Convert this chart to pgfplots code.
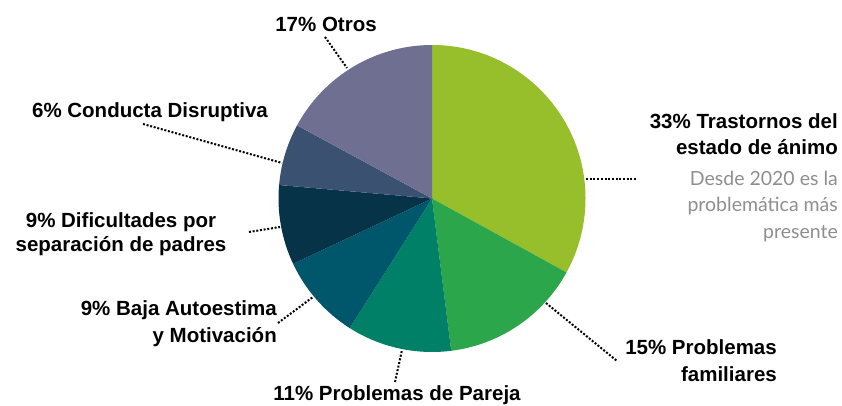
\documentclass[border=0pt]{standalone}
\usepackage{fontspec}
\setmainfont{Liberation Sans}
\newfontfamily\grayfont{Lato}
\usepackage{pgfplots}
\usepackage{pgfplotstable}
\pgfplotsset{compat=1.18}
\definecolor{c1}{HTML}{97BE2B}
\definecolor{c2}{HTML}{2BA64B}
\definecolor{c3}{HTML}{008066}
\definecolor{c4}{HTML}{00566A}
\definecolor{c5}{HTML}{073349}
\definecolor{c6}{HTML}{3B5171}
\definecolor{c7}{HTML}{6F7091}
\definecolor{graytxt}{HTML}{8E8E8E}

\pgfplotstableread{
pct start color
33 0 c1
15 33 c2
11 48 c3
9 59 c4
8.4 68 c5
6.5 76.4 c6
17.1 82.9 c7
}\piedata

\tikzset{
  lbl/.style={font=\bfseries\fontsize{20.5}{24}\selectfont, text=black, inner sep=0pt},
  glbl/.style={font=\grayfont\fontsize{19.5}{24}\selectfont, text=graytxt, inner sep=0pt},
  leader/.style={line width=2pt, dash pattern=on 2pt off 1.7pt, black},
}

\begin{document}
\begin{tikzpicture}
\begin{axis}[x=1pt, y=1pt, xmin=0, xmax=842, ymin=0, ymax=406,
  hide axis, scale only axis, clip=false]
\addplot[draw=none, forget plot] coordinates {(0,0) (842,406)};

\pgfplotsinvokeforeach{0,...,6}{
  \pgfplotstablegetelem{#1}{pct}\of\piedata \let\slicepct\pgfplotsretval
  \pgfplotstablegetelem{#1}{start}\of\piedata \let\slicestart\pgfplotsretval
  \pgfplotstablegetelem{#1}{color}\of\piedata \let\slicecol\pgfplotsretval
  \pgfmathsetmacro\slicea{90-3.6*\slicestart}
  \pgfmathsetmacro\sliceb{90-3.6*(\slicestart+\slicepct)}
  \edef\slicetemp{\noexpand\fill[\slicecol] (axis cs:432,207.5) -- ++(\slicea:153.5pt) arc[start angle=\slicea, end angle=\sliceb, radius=153.5pt] -- cycle;}
  \slicetemp
}

% leader lines
\draw[leader] (axis cs:325,369) -- (axis cs:347,338);
\draw[leader] (axis cs:586,226.5) -- (axis cs:636,226.5);
\draw[leader] (axis cs:143,282) -- (axis cs:282,243);
\draw[leader] (axis cs:249,174) -- (axis cs:280,179);
\draw[leader] (axis cs:278,83) -- (axis cs:313,109);
\draw[leader] (axis cs:395,24) -- (axis cs:402,56);
\draw[leader] (axis cs:546,103) -- (axis cs:617,45);

% labels
\node[lbl, anchor=base] at (axis cs:326,374) {17\% Otros};
\node[lbl, anchor=base east] at (axis cs:838,277) {33\% Trastornos del};
\node[lbl, anchor=base east] at (axis cs:838,251) {estado de ánimo};
\node[glbl, anchor=base east] at (axis cs:838,220) {Desde 2020 es la};
\node[glbl, anchor=base east] at (axis cs:838,194) {problemática más};
\node[glbl, anchor=base east] at (axis cs:838,167) {presente};
\node[lbl, anchor=base] at (axis cs:150,288) {6\% Conducta Disruptiva};
\node[lbl, anchor=base] at (axis cs:121,178) {9\% Dificultades por};
\node[lbl, anchor=base] at (axis cs:121,154) {separación de padres};
\node[lbl, anchor=base east] at (axis cs:277,90) {9\% Baja Autoestima};
\node[lbl, anchor=base east] at (axis cs:277,63) {y Motivación};
\node[lbl, anchor=base] at (axis cs:397,5) {11\% Problemas de Pareja};
\node[lbl, anchor=base east] at (axis cs:777,51) {15\% Problemas};
\node[lbl, anchor=base east] at (axis cs:777,24) {familiares};
\end{axis}
\pgfresetboundingbox
\path (0,0) rectangle (842pt,406pt);
\end{tikzpicture}
\end{document}
